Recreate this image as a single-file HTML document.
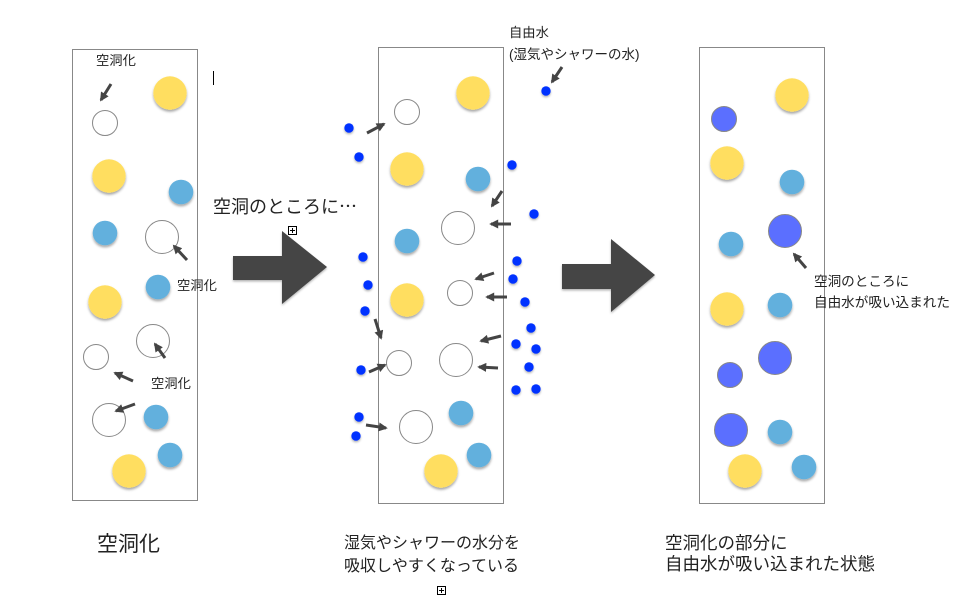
<!DOCTYPE html>
<html><head><meta charset="utf-8"><style>
html,body{margin:0;padding:0;background:#fff;}
svg{display:block;}
text{font-family:"Liberation Sans","Noto Sans CJK JP",sans-serif;fill:#222;}
.cjk{font-family:"Noto Sans CJK JP",sans-serif;}
</style></head><body>
<svg width="965" height="607" viewBox="0 0 965 607" xmlns="http://www.w3.org/2000/svg">
<defs>
<filter id="sh" x="-50%" y="-50%" width="200%" height="200%">
<feDropShadow dx="0" dy="2" stdDeviation="1.4" flood-color="#000" flood-opacity="0.35"/>
</filter>
<filter id="sh2" x="-50%" y="-50%" width="200%" height="200%">
<feDropShadow dx="0" dy="1.5" stdDeviation="1" flood-color="#000" flood-opacity="0.3"/>
</filter>
<marker id="ah" viewBox="0 0 10 10" refX="8" refY="5" markerWidth="3.2" markerHeight="3" orient="auto">
<path d="M0,0 L10,5 L0,10 z" fill="#444"/>
</marker>
</defs>

<!-- Panels -->
<rect x="72.5" y="49.5" width="125" height="451" fill="none" stroke="#888" stroke-width="1"/>
<rect x="378.5" y="47.5" width="125" height="456" fill="none" stroke="#888" stroke-width="1"/>
<rect x="699.5" y="47.5" width="125" height="456" fill="none" stroke="#888" stroke-width="1"/>

<!-- Panel 1 -->
<g filter="url(#sh)">
<circle cx="170" cy="93" r="16.7" fill="#FFDE60"/>
<circle cx="109" cy="176" r="16.7" fill="#FFDE60"/>
<circle cx="181" cy="192" r="12.3" fill="#62B0DD"/>
<circle cx="105" cy="233" r="12.3" fill="#62B0DD"/>
<circle cx="158" cy="287" r="12.3" fill="#62B0DD"/>
<circle cx="105" cy="302" r="16.7" fill="#FFDE60"/>
<circle cx="156" cy="417" r="12.3" fill="#62B0DD"/>
<circle cx="170" cy="455" r="12.3" fill="#62B0DD"/>
<circle cx="129" cy="471" r="16.7" fill="#FFDE60"/>
</g>
<g fill="#fff" stroke="#888" stroke-width="1">
<circle cx="105" cy="123" r="12.5"/>
<circle cx="162" cy="237" r="16.5"/>
<circle cx="153" cy="341" r="16.5"/>
<circle cx="96" cy="357" r="12.5"/>
<circle cx="109" cy="420" r="16.5"/>
</g>
<g stroke="#444" stroke-width="3" marker-end="url(#ah)">
<line x1="111" y1="84" x2="101" y2="100"/>
<line x1="187" y1="260" x2="174" y2="246"/>
<line x1="165" y1="358" x2="155" y2="344"/>
<line x1="133" y1="381" x2="115" y2="373"/>
<line x1="135" y1="404" x2="116" y2="411"/>
</g>
<text x="96" y="65" font-size="13.3">空洞化</text>
<text x="177" y="290" font-size="13.3">空洞化</text>
<text x="151" y="388" font-size="13.3">空洞化</text>
<line x1="213.5" y1="71" x2="213.5" y2="85" stroke="#000" stroke-width="1"/>

<!-- Big arrow 1 -->
<polygon points="233,256 282,256 282,231 327,267 282,304 282,280 233,280" fill="#444" filter="url(#sh2)"/>
<text x="213" y="213" font-size="18">空洞のところに<tspan class="cjk">…</tspan></text>
<g stroke="#000" stroke-width="1" fill="#fff">
<rect x="288.5" y="226.5" width="8" height="8"/>
<line x1="292.5" y1="228" x2="292.5" y2="233"/>
<line x1="290" y1="230.5" x2="295" y2="230.5"/>
</g>

<!-- Panel 2 -->
<g filter="url(#sh)">
<circle cx="473" cy="93" r="16.7" fill="#FFDE60"/>
<circle cx="407" cy="169" r="16.7" fill="#FFDE60"/>
<circle cx="478" cy="179" r="12.3" fill="#62B0DD"/>
<circle cx="407" cy="241" r="12.3" fill="#62B0DD"/>
<circle cx="407" cy="300" r="16.7" fill="#FFDE60"/>
<circle cx="461" cy="413" r="12.3" fill="#62B0DD"/>
<circle cx="479" cy="455" r="12.3" fill="#62B0DD"/>
<circle cx="441" cy="471" r="16.7" fill="#FFDE60"/>
</g>
<g fill="#fff" stroke="#888" stroke-width="1">
<circle cx="407" cy="112" r="12.5"/>
<circle cx="458" cy="228" r="16.5"/>
<circle cx="460" cy="293" r="12.5"/>
<circle cx="456" cy="360" r="16.5"/>
<circle cx="399" cy="363" r="12.5"/>
<circle cx="416" cy="427" r="16.5"/>
</g>
<g fill="#0433FF" filter="url(#sh2)">
<circle cx="546" cy="91" r="4.7"/>
<circle cx="349" cy="128" r="4.7"/>
<circle cx="359" cy="157" r="4.7"/>
<circle cx="512" cy="165" r="4.7"/>
<circle cx="534" cy="214" r="4.7"/>
<circle cx="363" cy="257" r="4.7"/>
<circle cx="517" cy="261" r="4.7"/>
<circle cx="513" cy="279" r="4.7"/>
<circle cx="368" cy="285" r="4.7"/>
<circle cx="525" cy="302" r="4.7"/>
<circle cx="365" cy="311" r="4.7"/>
<circle cx="531" cy="328" r="4.7"/>
<circle cx="516" cy="344" r="4.7"/>
<circle cx="536" cy="349" r="4.7"/>
<circle cx="529" cy="367" r="4.7"/>
<circle cx="361" cy="370" r="4.7"/>
<circle cx="516" cy="390" r="4.7"/>
<circle cx="536" cy="389" r="4.7"/>
<circle cx="359" cy="417" r="4.7"/>
<circle cx="356" cy="436" r="4.7"/>
</g>
<g stroke="#444" stroke-width="3" marker-end="url(#ah)">
<line x1="562" y1="67" x2="552" y2="82"/>
<line x1="367" y1="133" x2="384" y2="124"/>
<line x1="502" y1="191" x2="492" y2="206"/>
<line x1="511" y1="224" x2="491" y2="224"/>
<line x1="494" y1="273" x2="476" y2="279"/>
<line x1="507" y1="297" x2="487" y2="297"/>
<line x1="375" y1="319" x2="381" y2="338"/>
<line x1="501" y1="336" x2="481" y2="341"/>
<line x1="498" y1="368" x2="479" y2="367"/>
<line x1="369" y1="372" x2="385" y2="365"/>
<line x1="366" y1="425" x2="386" y2="428"/>
</g>
<text x="509" y="37" font-size="13.3">自由水</text>
<text x="509" y="59" font-size="13.5">(湿気やシャワーの水)</text>

<!-- Big arrow 2 -->
<polygon points="562,264 611,264 611,239 655,275 611,312 611,289 562,289" fill="#444" filter="url(#sh2)"/>

<!-- Panel 3 -->
<g filter="url(#sh)">
<circle cx="792" cy="95" r="16.7" fill="#FFDE60"/>
<circle cx="727" cy="163" r="16.7" fill="#FFDE60"/>
<circle cx="792" cy="182" r="12.3" fill="#62B0DD"/>
<circle cx="731" cy="244" r="12.3" fill="#62B0DD"/>
<circle cx="727" cy="309" r="16.7" fill="#FFDE60"/>
<circle cx="780" cy="305" r="12.3" fill="#62B0DD"/>
<circle cx="780" cy="432" r="12.3" fill="#62B0DD"/>
<circle cx="745" cy="471" r="16.7" fill="#FFDE60"/>
<circle cx="804" cy="467" r="12.3" fill="#62B0DD"/>
</g>
<g fill="#5B6FFF" stroke="#888" stroke-width="1">
<circle cx="724" cy="119" r="12.5"/>
<circle cx="785" cy="231" r="16.5"/>
<circle cx="775" cy="358" r="16.5"/>
<circle cx="730" cy="375" r="12.5"/>
<circle cx="731" cy="430" r="16.5"/>
</g>
<g stroke="#444" stroke-width="3" marker-end="url(#ah)">
<line x1="806" y1="268" x2="794" y2="254"/>
</g>
<text x="814" y="286" font-size="13.6">空洞のところに</text>
<text x="814" y="307" font-size="13.6">自由水が吸い込まれた</text>

<!-- Bottom captions -->
<text x="97" y="551" font-size="21">空洞化</text>
<text x="344" y="548" font-size="16">湿気やシャワーの水分を</text>
<text x="344" y="571" font-size="16">吸収しやすくなっている</text>
<g stroke="#000" stroke-width="1" fill="#fff">
<rect x="437.5" y="586.5" width="8" height="8"/>
<line x1="441.5" y1="588" x2="441.5" y2="593"/>
<line x1="439" y1="590.5" x2="444" y2="590.5"/>
</g>
<text x="665" y="549" font-size="17.5">空洞化の部分に</text>
<text x="665" y="570" font-size="17.5">自由水が吸い込まれた状態</text>
</svg>
</body></html>
